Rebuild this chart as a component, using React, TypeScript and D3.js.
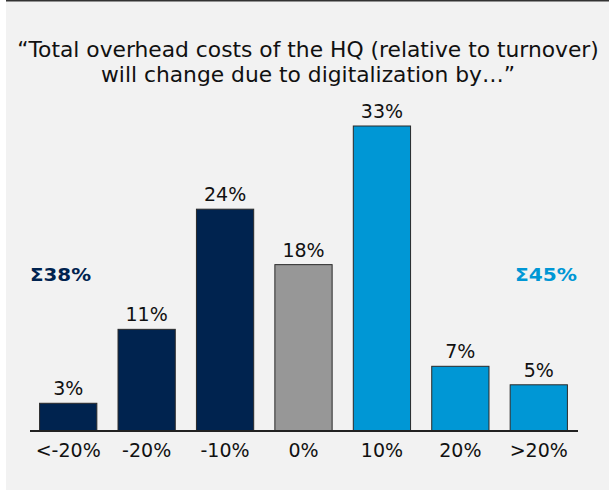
import React from "react";
import * as d3 from "d3";

const categories = ["<-20%", "-20%", "-10%", "0%", "10%", "20%", ">20%"];
const values = [3, 11, 24, 18, 33, 7, 5];
const groups = ["down", "down", "down", "flat", "up", "up", "up"];
const titleLines = [
  "\u201CTotal overhead costs of the HQ (relative to turnover)",
  "will change due to digitalization by\u2026\u201D",
];
const sumLabels = [
  { text: "\u03A338%", group: "down" },
  { text: "\u03A345%", group: "up" },
];

const colors: Record<string, string> = {
  down: "#00234f",
  flat: "#979797",
  up: "#0097d5",
};

const W = 609;
const H = 490;
const font = "Verdana, 'DejaVu Sans', sans-serif";

export default function App() {
  const x = d3
    .scaleBand<string>()
    .domain(categories)
    .range([29, 578])
    .paddingInner(0.27)
    .paddingOuter(0.135);

  const y = d3.scaleLinear().domain([0, 33]).range([431, 126]);

  return (
    <div style={{ position: "fixed", left: 0, top: 0 }}>
      <svg width={W} height={H} style={{ display: "block" }}>
        <rect x={0} y={0} width={W} height={H} fill="#ffffff" />
        <rect x={6} y={0} width={W - 6} height={H} fill="#f2f2f2" />
        <line x1={6} x2={W} y1={0.75} y2={0.75} stroke="#333" strokeWidth={1.5} />

        {titleLines.map((t, i) => (
          <text
            key={i}
            x={308}
            y={57 + i * 25}
            textAnchor="middle"
            fontFamily={font}
            fontSize={21.8}
            fill="#111"
          >
            {t}
          </text>
        ))}

        {categories.map((c, i) => (
          <g key={c}>
            <rect
              x={x(c)!}
              y={y(values[i])}
              width={x.bandwidth()}
              height={y(0) - y(values[i])}
              fill={colors[groups[i]]}
              stroke="#2a2a2a"
              strokeWidth={1}
            />
            <text
              x={x(c)! + x.bandwidth() / 2}
              y={y(values[i]) - 8}
              textAnchor="middle"
              fontFamily={font}
              fontSize={19}
              fill="#111"
            >
              {values[i]}%
            </text>
            <text
              x={x(c)! + x.bandwidth() / 2}
              y={457}
              textAnchor="middle"
              fontFamily={font}
              fontSize={19}
              fill="#111"
            >
              {c}
            </text>
          </g>
        ))}

        <line x1={30} x2={578} y1={y(0)} y2={y(0)} stroke="#222" strokeWidth={2} />

        <text
          x={30}
          y={281}
          fontFamily={font}
          fontSize={17}
          fontWeight="bold"
          textLength={61}
          lengthAdjust="spacingAndGlyphs"
          fill={colors[sumLabels[0].group]}
        >
          {sumLabels[0].text}
        </text>
        <text
          x={515}
          y={281}
          fontFamily={font}
          fontSize={17}
          fontWeight="bold"
          textLength={62}
          lengthAdjust="spacingAndGlyphs"
          fill={colors[sumLabels[1].group]}
        >
          {sumLabels[1].text}
        </text>
      </svg>
    </div>
  );
}
